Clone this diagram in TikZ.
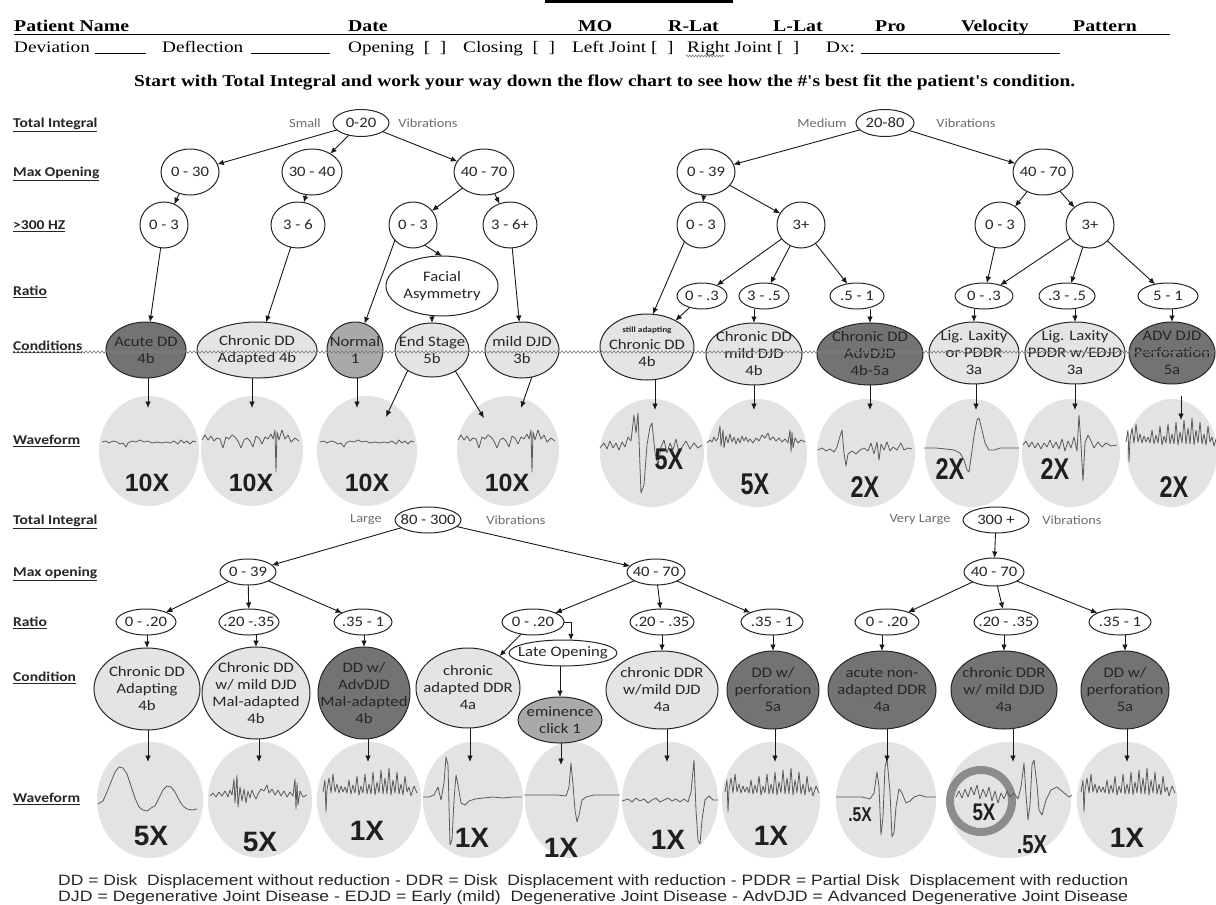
\documentclass[tikz,border=0pt]{standalone}
\usepackage{fontspec}
\usepackage{graphicx}
\usetikzlibrary{shapes.geometric,arrows.meta,decorations.pathmorphing}
\newfontfamily\hf[FakeStretch=1.2]{Liberation Serif}
\newfontfamily\cf[FakeStretch=1.15]{Carlito}
\newfontfamily\ff{Liberation Sans}
\newfontfamily\nf[FakeStretch=0.78]{Liberation Sans}
\definecolor{clight}{HTML}{E4E4E4}
\definecolor{cmid}{HTML}{A9A9A9}
\definecolor{cdark}{HTML}{737373}
\definecolor{wbg}{HTML}{E3E3E3}
\definecolor{ringc}{HTML}{8C8C8C}
\definecolor{txt}{HTML}{262626}
\definecolor{gtxt}{HTML}{6E6E6E}
\definecolor{wline}{HTML}{5A5A5A}
\tikzset{
  ebase/.style={ellipse, draw=black!85, line width=1pt, inner sep=0pt, outer sep=0pt},
  rngbox/.style={ebase, fill=white},
  cltbox/.style={ebase, fill=clight},
  cmdbox/.style={ebase, fill=cmid},
  cdkbox/.style={ebase, fill=cdark},
  wbbox/.style={ellipse, fill=wbg, draw=none, inner sep=0pt},
  etxt/.style={inner sep=0pt, align=center, text=txt, font=\cf\fontsize{14.5}{17}\selectfont},
  rlab/.style={anchor=base west, inner sep=0pt, text=black!85, font=\cf\bfseries\fontsize{13.5}{15}\selectfont},
  gtx/.style={inner sep=0pt, text=gtxt, font=\cf\fontsize{12.5}{14}\selectfont},
  hb/.style={anchor=base west, inner sep=0pt, text=black, font=\hf\bfseries\fontsize{16.5}{18}\selectfont},
  hr/.style={anchor=base west, inner sep=0pt, text=black, font=\hf\fontsize{16}{18}\selectfont},
  arr/.style={draw=black!90, line width=0.9pt, -{Latex[length=6.5pt,width=5.5pt]}},
  wv/.style={draw=wline, line width=0.8pt, line join=round},
  nx/.style={inner sep=0pt, text=black!88, font=\ff\bfseries\fontsize{25}{25}\selectfont},
  nxl/.style={inner sep=0pt, text=black!88, font=\ff\bfseries\fontsize{28}{28}\selectfont},
  nxn/.style={inner sep=0pt, text=black!88, font=\nf\bfseries\fontsize{30}{30}\selectfont},
  sqline/.style={draw=black!50, line width=0.6pt, decorate, decoration={zigzag, segment length=4pt, amplitude=1.2pt}},
}
\newcommand\enode[6][rngbox]{\node[#1, minimum width=#4pt, minimum height=#5pt] (#2) at #3 {};\node[etxt] (#2-t) at (#2) {#6};}
% waveforms
\newcommand\wflat[2]{\draw[wv,shift={(#1,#2)}] (-47,0) -- (-43,-1) -- (-40,1) -- (-36,-1) -- (-32,0) -- (-29,2) -- (-26,1) -- (-23,5) -- (-21,1) -- (-17,-1) -- (-13,0) -- (-9,-2) -- (-5,0) -- (-1,-1) -- (3,1) -- (8,0) -- (13,1) -- (17,0) -- (21,1) -- (25,-1) -- (29,2) -- (32,-2) -- (35,1) -- (38,-1) -- (41,2) -- (44,-1) -- (47,0);}
\newcommand\wchr[2]{\draw[wv,shift={(#1,#2)}] (-50,-2) -- (-47,-7) -- (-44,-2) -- (-41,-6) -- (-38,-1) -- (-35,-4) -- (-32,-3) -- (-29,6) -- (-26,-5) -- (-23,-3) -- (-20,-7) -- (-17,-5) -- (-14,-1) -- (-11,6) -- (-8,-2) -- (-5,-4) -- (-2,-1) -- (1,5) -- (4,-6) -- (7,-4) -- (10,2) -- (13,-5) -- (16,-3) -- (19,-8) -- (21,-3) -- (23,-12) -- (24,30) -- (25,-10) -- (27,-2) -- (30,-12) -- (33,-3) -- (36,-7) -- (39,0) -- (43,-4) -- (47,-1);}
\newcommand\wbig[2]{\draw[wv,shift={(#1,#2)}] (-52,3) -- (-48,-2) -- (-45,4) -- (-42,-4) -- (-39,3) -- (-36,-2) -- (-33,5) -- (-30,-3) -- (-27,2) -- (-24,-8) -- (-21,-4) -- (-18,-30) -- (-16,-12) -- (-14,-32) -- (-11,48) -- (-8,40) -- (-5,0) -- (-2,-18) -- (0,-22) -- (3,8) -- (6,20) -- (9,2) -- (12,-5) -- (15,8) -- (18,-2) -- (21,5) -- (24,-6) -- (27,8) -- (30,2) -- (34,-4) -- (38,4) -- (42,-2) -- (46,3) -- (50,0);}
\newcommand\wnoise[2]{\draw[wv,shift={(#1,#2)}] (-50,3) -- (-47,0) -- (-45,2) -- (-43,-3) -- (-41,1) -- (-39,-2) -- (-37,-14) -- (-36,6) -- (-34,-10) -- (-33,8) -- (-31,-4) -- (-29,3) -- (-27,-6) -- (-25,2) -- (-23,-3) -- (-21,4) -- (-19,-2) -- (-17,3) -- (-15,-4) -- (-13,1) -- (-11,-3) -- (-9,2) -- (-7,-1) -- (-4,3) -- (-1,-2) -- (2,1) -- (5,-5) -- (8,-2) -- (11,-7) -- (13,0) -- (16,-3) -- (19,1) -- (22,-2) -- (25,2) -- (28,-1) -- (31,3) -- (33,-10) -- (34,12) -- (35,-8) -- (36,8) -- (38,-2) -- (41,3) -- (44,0) -- (48,2);}
\newcommand\wsev[2]{\draw[wv,shift={(#1,#2)}] (-48,2) -- (-44,0) -- (-40,3) -- (-36,1) -- (-32,4) -- (-29,-1) -- (-26,-12) -- (-24,-18) -- (-22,5) -- (-20,18) -- (-18,6) -- (-14,3) -- (-10,6) -- (-6,2) -- (-2,0) -- (2,3) -- (5,-5) -- (8,6) -- (11,-6) -- (13,12) -- (15,-4) -- (18,2) -- (21,-6) -- (24,3) -- (27,-1) -- (31,2) -- (35,-5) -- (38,2) -- (42,0) -- (46,1);}
\newcommand\wlax[2]{\draw[wv,shift={(#1,#2)}] (-48,0) -- (-36,0) -- (-26,1) -- (-18,2) -- (-12,5) -- (-8,12) -- (-5,22) -- (-3,24) -- (-1,10) -- (2,-12) -- (5,-28) -- (7,-30) -- (10,-18) -- (13,-5) -- (17,2) -- (22,2) -- (28,0) -- (36,0) -- (47,0);}
\newcommand\wnine[2]{\draw[wv,shift={(#1,#2)}] (-48,0) -- (-45,-4) -- (-42,2) -- (-39,-3) -- (-36,3) -- (-33,-2) -- (-30,4) -- (-27,-2) -- (-24,2) -- (-21,-5) -- (-18,3) -- (-15,-3) -- (-12,4) -- (-9,-6) -- (-6,6) -- (-3,-4) -- (0,3) -- (3,-8) -- (6,6) -- (8,-30) -- (10,0) -- (12,36) -- (14,-2) -- (17,-10) -- (20,-4) -- (23,3) -- (27,-3) -- (31,2) -- (35,-2) -- (40,1) -- (46,0);}
\newcommand\wspk[2]{\draw[wv,shift={(#1,#2)}] (-46,2) -- (-44,-10) -- (-43,22) -- (-42,0) -- (-40,-12) -- (-38,3) -- (-36,-16) -- (-34,2) -- (-32,-6) -- (-30,3) -- (-28,-4) -- (-26,2) -- (-24,-3) -- (-22,3) -- (-20,-10) -- (-18,4) -- (-16,-5) -- (-14,3) -- (-12,-14) -- (-10,5) -- (-8,-4) -- (-6,3) -- (-4,-16) -- (-2,4) -- (0,-6) -- (2,4) -- (4,-18) -- (6,5) -- (8,-8) -- (10,3) -- (12,-20) -- (14,4) -- (16,-12) -- (18,4) -- (20,-22) -- (22,5) -- (24,-10) -- (26,3) -- (28,-18) -- (30,4) -- (32,-6) -- (34,5) -- (36,-14) -- (38,2) -- (40,-3) -- (42,6) -- (45,-4) -- (48,3);}
\newcommand\wslow[2]{\draw[wv,shift={(#1,#2)}] (-52,12) -- (-47,9) -- (-43,0) -- (-39,-10) -- (-35,-20) -- (-31,-25) -- (-27,-24) -- (-23,-18) -- (-19,-6) -- (-15,6) -- (-11,15) -- (-7,18) -- (-3,19) -- (1,16) -- (5,14) -- (9,6) -- (13,-2) -- (17,-6) -- (21,-5) -- (25,0) -- (29,8) -- (33,14) -- (37,17) -- (42,18) -- (47,17);}
\newcommand\wnoisy[2]{\draw[wv,shift={(#1,#2)}] (-50,3) -- (-47,0) -- (-44,4) -- (-41,-1) -- (-38,3) -- (-35,-2) -- (-32,4) -- (-30,-3) -- (-28,2) -- (-26,-14) -- (-25,10) -- (-23,-18) -- (-22,14) -- (-20,-6) -- (-18,8) -- (-16,-4) -- (-14,10) -- (-12,-2) -- (-10,5) -- (-8,-3) -- (-6,2) -- (-4,6) -- (-2,1) -- (1,-4) -- (4,-2) -- (7,-8) -- (9,0) -- (12,-4) -- (15,2) -- (18,-3) -- (21,3) -- (24,-2) -- (27,4) -- (30,-1) -- (33,3) -- (35,-14) -- (36,16) -- (37,-10) -- (38,12) -- (40,-2) -- (43,4) -- (47,2);}
\newcommand\wfour[2]{\draw[wv,shift={(#1,#2)}] (-50,2) -- (-44,2) -- (-39,0) -- (-35,-8) -- (-32,5) -- (-29,-12) -- (-27,-38) -- (-25,-30) -- (-23,50) -- (-21,45) -- (-19,5) -- (-17,-20) -- (-15,-10) -- (-12,8) -- (-8,10) -- (-4,6) -- (2,4) -- (10,3) -- (20,2) -- (30,3) -- (40,2) -- (49,2);}
\newcommand\wclick[2]{\draw[wv,shift={(#1,#2)}] (-48,0) -- (-30,0) -- (-15,0) -- (-6,1) -- (-3,-8) -- (-1,-32) -- (1,-10) -- (3,15) -- (5,27) -- (7,20) -- (10,5) -- (14,2) -- (22,0) -- (35,0) -- (48,0);}
\newcommand\wsix[2]{\draw[wv,shift={(#1,#2)}] (-48,1) -- (-42,-1) -- (-38,2) -- (-34,-2) -- (-30,1) -- (-26,-1) -- (-22,3) -- (-18,0) -- (-14,-2) -- (-10,2) -- (-6,0) -- (-2,-2) -- (2,1) -- (6,-1) -- (10,2) -- (14,-1) -- (18,2) -- (21,-8) -- (24,-40) -- (26,10) -- (28,40) -- (30,44) -- (32,20) -- (35,0) -- (39,-4) -- (43,0) -- (48,0);}
\newcommand\weight[2]{\draw[wv,shift={(#1,#2)}] (-50,0) -- (-36,0) -- (-24,0) -- (-16,2) -- (-12,-4) -- (-9,-25) -- (-7,-10) -- (-5,38) -- (-3,20) -- (-1,-30) -- (1,-38) -- (4,-5) -- (6,40) -- (8,35) -- (10,10) -- (13,-8) -- (16,-4) -- (20,6) -- (24,4) -- (28,0) -- (34,-2) -- (40,0) -- (50,0);}
\newcommand\wring[2]{\draw[wv,shift={(#1,#2)}] (-53,2) -- (-50,-4) -- (-47,3) -- (-44,-6) -- (-41,2) -- (-38,-8) -- (-35,0) -- (-32,-10) -- (-29,4) -- (-26,-6) -- (-23,2) -- (-20,-8) -- (-17,6) -- (-14,-4) -- (-11,8) -- (-8,-2) -- (-5,4) -- (-2,-4) -- (1,2) -- (5,-2) -- (9,4) -- (12,-8) -- (15,-32) -- (17,0) -- (19,25) -- (21,10) -- (23,-30) -- (25,-35) -- (28,-10) -- (30,15) -- (33,20) -- (37,5) -- (42,-5) -- (48,-8) -- (54,-3) -- (60,2) -- (63,0);}
\begin{document}
\begin{tikzpicture}[x=1pt,y=-1pt]
\useasboundingbox[fill=white] (0,0) rectangle (1216,905);
% ---------- header ----------
\fill[black] (545,0) rectangle (733,3);
\node[hb] (h1) at (14,31.5) {Patient Name};
\node[hb] (h2) at (348,31.5) {Date};
\node[hb] (h3) at (578,31.5) {MO};
\node[hb] (h4) at (668,31.5) {R-Lat};
\node[hb] (h5) at (773,31.5) {L-Lat};
\node[hb] (h6) at (875,31.5) {Pro};
\node[hb] (h7) at (961,31.5) {Velocity};
\node[hb] (h8) at (1073,31.5) {Pattern};
\draw[line width=1pt] (14,34) -- (1170,34);
\node[hr] (d1) at (14,52.5) {Deviation};
\draw[line width=0.9pt] (95,53.5) -- (146,53.5);
\node[hr] (d2) at (162,52.5) {Deflection};
\draw[line width=0.9pt] (251,53.5) -- (330,53.5);
\node[hr] (d3) at (348,52.5) {Opening~~[~~]};
\node[hr] (d4) at (463,52.5) {Closing~~[~~]};
\node[hr] (d5) at (572,52.5) {Left Joint [~~]};
\node[hr] (d6) at (687,52.5) {Right Joint [~~]};
\draw[sqline, decoration={amplitude=1pt, segment length=3pt}] (686,56) -- (724,56);
\node[hr] (d7) at (826,52.5) {D{\fontsize{11}{11}\selectfont X}:};
\draw[line width=0.9pt] (861,53.5) -- (1060,53.5);
\node[hb] (st) at (134,86) {\resizebox{941pt}{\height}{Start with Total Integral and work your way down the flow chart to see how the \#'s best fit the patient's condition.}};
% ---------- row labels ----------
\node[rlab] (lab1) at (13,127.5) {\underline{Total Integral}};
\node[rlab] (lab2) at (13,176.5) {\underline{Max Opening}};
\node[rlab] (lab3) at (13,229.5) {\underline{>300 HZ}};
\node[rlab] (lab4) at (13,295.5) {\underline{Ratio}};
\node[rlab] (lab5) at (13,350.5) {\underline{Conditions}};
\node[rlab] (lab6) at (13,444.5) {\underline{Waveform}};
\node[rlab] (lab7) at (13,524.5) {\underline{Total Integral}};
\node[rlab] (lab8) at (13,576.5) {\underline{Max opening}};
\node[rlab] (lab9) at (13,626.5) {\underline{Ratio}};
\node[rlab] (lab10) at (13,681.5) {\underline{Condition}};
\node[rlab] (lab11) at (13,802.5) {\underline{Waveform}};
% ---------- gray texts ----------
\node[gtx] (g1) at (305,123) {Small};
\node[gtx] (g2) at (428,123) {Vibrations};
\node[gtx] (g3) at (822,123) {Medium};
\node[gtx] (g4) at (966,123) {Vibrations};
\node[gtx] (g5) at (366,520) {Large};
\node[gtx] (g6) at (516,520) {Vibrations};
\node[gtx] (g7) at (920,520) {Very Large};
\node[gtx] (g8) at (1072,520) {Vibrations};
% ---------- waveform backgrounds (top) ----------
\node[wbbox, minimum width=100pt, minimum height=110pt] (w1) at (149,451) {};
\node[wbbox, minimum width=102pt, minimum height=110pt] (w2) at (252,451) {};
\node[wbbox, minimum width=100pt, minimum height=110pt] (w3) at (367,451) {};
\node[wbbox, minimum width=102pt, minimum height=110pt] (w4) at (508,451) {};
\node[wbbox, minimum width=104pt, minimum height=108pt] (w5) at (652,453) {};
\node[wbbox, minimum width=100pt, minimum height=108pt] (w6) at (757,453) {};
\node[wbbox, minimum width=98pt, minimum height=108pt] (w7) at (866,453) {};
\node[wbbox, minimum width=94pt, minimum height=108pt] (w8) at (972,453) {};
\node[wbbox, minimum width=98pt, minimum height=108pt] (w9) at (1071,453) {};
\node[wbbox, minimum width=90pt, minimum height=108pt] (w10) at (1172,453) {};
% ---------- waveform backgrounds (bottom) ----------
\node[wbbox, minimum width=106pt, minimum height=116pt] (v1) at (150,800) {};
\node[wbbox, minimum width=104pt, minimum height=116pt] (v2) at (260,800) {};
\node[wbbox, minimum width=104pt, minimum height=116pt] (v3) at (369,800) {};
\node[wbbox, minimum width=100pt, minimum height=116pt] (v4) at (473,800) {};
\node[wbbox, minimum width=94pt, minimum height=116pt] (v5) at (572,800) {};
\node[wbbox, minimum width=96pt, minimum height=116pt] (v6) at (670,800) {};
\node[wbbox, minimum width=98pt, minimum height=116pt] (v7) at (771,800) {};
\node[wbbox, minimum width=100pt, minimum height=116pt] (v8) at (886,800) {};
\node[wbbox, minimum width=124pt, minimum height=116pt] (v9) at (1009,800) {};
\node[wbbox, minimum width=100pt, minimum height=116pt] (v10) at (1127,800) {};
\draw[ringc, line width=8pt] (981,801) circle (31);
% ---------- traces ----------
\wflat{149}{442}
\wchr{252}{442}
\wflat{367}{442}
\wchr{508}{442}
\wbig{652}{445}
\wnoise{757}{440}
\wsev{866}{448}
\wlax{972}{448}
\wnine{1071}{445}
\wspk{1172}{440}
\wslow{150}{792}
\wnoisy{260}{793}
\wspk{369}{790}
\wfour{473}{795}
\wclick{572}{795}
\wsix{670}{800}
\wspk{771}{790}
\weight{886}{797}
\wring{1009}{795}
\wspk{1127}{790}
% ---------- multipliers ----------
\node[nx] (m1) at (147,483) {10X};
\node[nx] (m2) at (251,483) {10X};
\node[nx] (m3) at (367,483) {10X};
\node[nx] (m4) at (507,483) {10X};
\node[nxn] (m5) at (669,459) {5X};
\node[nxn] (m6) at (755,484) {5X};
\node[nxn] (m7) at (865,487) {2X};
\node[nxn] (m8) at (950,469) {2X};
\node[nxn] (m9) at (1055,469) {2X};
\node[nxn] (m10) at (1174,487) {2X};
\node[nxl] (k1) at (151,836) {5X};
\node[nxl] (k2) at (260,842) {5X};
\node[nxl] (k3) at (367,831) {1X};
\node[nxl] (k4) at (472,838) {1X};
\node[nxl] (k5) at (561,848) {1X};
\node[nxl] (k6) at (668,840) {1X};
\node[nxl] (k7) at (771,836) {1X};
\node[nxn, font=\nf\bfseries\fontsize{20}{20}\selectfont] (k8) at (860,815) {.5X};
\node[nxn, font=\nf\bfseries\fontsize{24}{24}\selectfont] (k9) at (984,812) {5X};
\node[nxn, font=\nf\bfseries\fontsize{26}{26}\selectfont] (k10) at (1032,845) {.5X};
\node[nxl] (k11) at (1127,838) {1X};
% ---------- top-left tree ----------
\enode{t020}{(361,123)}{56}{27}{0-20}
\enode{t030}{(190,172)}{58}{46}{0 - 30}
\enode{t3040}{(312,172)}{60}{46}{30 - 40}
\enode{t4070}{(484,172)}{60}{46}{40 - 70}
\enode{th1}{(164,225)}{48}{46}{0 - 3}
\enode{th2}{(298,225)}{54}{46}{3 - 6}
\enode{th3}{(413,225)}{48}{46}{0 - 3}
\enode{th4}{(510,225)}{54}{46}{3 - 6+}
\enode{fac}{(442,286)}{112}{60}{Facial\\Asymmetry}
\enode[cdkbox]{acute}{(146,350)}{80}{56}{Acute DD\\4b}
\enode[cltbox]{chra}{(257,350)}{120}{56}{Chronic DD\\Adapted 4b}
\enode[cmdbox]{norm}{(355,350)}{56}{56}{Normal\\1}
\enode[cltbox]{ends}{(432,350)}{74}{54}{End Stage\\5b}
\enode[cltbox]{mdjd}{(522,350)}{74}{56}{mild DJD\\3b}
% ---------- top-right tree ----------
\enode{t2080}{(885,123)}{58}{27}{20-80}
\enode{t039}{(706,172)}{58}{46}{0 - 39}
\enode{t4070r}{(1043,172)}{60}{46}{40 - 70}
\enode{th5}{(701,225)}{48}{46}{0 - 3}
\enode{th6}{(801,225)}{48}{46}{3+}
\enode{th7}{(1000,225)}{50}{46}{0 - 3}
\enode{th8}{(1090,225)}{48}{46}{3+}
\enode{tr1}{(702,296)}{50}{26}{0 - .3}
\enode{tr2}{(764,296)}{50}{26}{3 - .5}
\enode{tr3}{(857,296)}{54}{26}{.5 - 1}
\enode{tr4}{(984,296)}{58}{26}{0 - .3}
\enode{tr5}{(1067,296)}{56}{26}{.3 - .5}
\enode{tr6}{(1168,296)}{60}{26}{5 - 1}
\enode[cltbox]{stil}{(647,347)}{94}{66}{{\bfseries\fontsize{8}{9}\selectfont still adapting}\\Chronic DD\\4b}
\enode[cltbox]{cmil}{(754,354)}{96}{62}{Chronic DD\\mild DJD\\4b}
\enode[cdkbox]{cadv}{(870,354)}{106}{62}{Chronic DD\\AdvDJD\\4b-5a}
\enode[cltbox]{lig}{(974,353)}{90}{62}{Lig. Laxity\\or PDDR\\3a}
\enode[cltbox]{ligp}{(1075,353)}{100}{62}{Lig. Laxity\\PDDR w/EDJD\\3a}
\enode[cdkbox]{advd}{(1172,353)}{86}{62}{ADV DJD\\Perforation\\5a}
% ---------- lower-left tree ----------
\enode{l80}{(428,520)}{66}{26}{80 - 300}
\enode{l039}{(248,572)}{56}{26}{0 - 39}
\enode{l4070}{(656,572)}{58}{26}{40 - 70}
\enode{lr1}{(146,622)}{60}{26}{0 - .20}
\enode{lr2}{(249,622)}{60}{26}{.20 -.35}
\enode{lr3}{(363,622)}{58}{26}{.35 - 1}
\enode{lr4}{(533,622)}{62}{26}{0 - .20}
\enode{lr5}{(662,622)}{64}{26}{.20 - .35}
\enode{lr6}{(772,622)}{62}{26}{.35 - 1}
\enode{late}{(563,653)}{108}{26}{Late Opening}
\enode[cltbox]{lc1}{(147,689)}{106}{82}{Chronic DD\\Adapting\\4b}
\enode[cltbox]{lc2}{(256,693)}{108}{92}{Chronic DD\\w/ mild DJD\\Mal-adapted\\4b}
\enode[cdkbox]{lc3}{(364,693)}{92}{92}{DD w/\\AdvDJD\\Mal-adapted\\4b}
\enode[cltbox]{lc4}{(468,688)}{104}{80}{chronic\\adapted DDR\\4a}
\enode[cmdbox]{lc5}{(560,720)}{84}{46}{eminence\\click 1}
\enode[cltbox]{lc6}{(662,690)}{112}{78}{chronic DDR\\w/mild DJD\\4a}
\enode[cdkbox]{lc7}{(773,690)}{92}{78}{DD w/\\perforation\\5a}
% ---------- lower-right tree ----------
\enode{l300}{(996,520)}{66}{26}{300 +}
\enode{l4070r}{(994,572)}{60}{28}{40 - 70}
\enode{lr7}{(887,622)}{64}{26}{0 - .20}
\enode{lr8}{(1006,622)}{64}{26}{.20 - .35}
\enode{lr9}{(1120,622)}{62}{26}{.35 - 1}
\enode[cdkbox]{lc8}{(882,690)}{108}{78}{acute non-\\adapted DDR\\4a}
\enode[cdkbox]{lc9}{(1004,690)}{106}{78}{chronic DDR\\w/ mild DJD\\4a}
\enode[cdkbox]{lc10}{(1125,690)}{88}{78}{DD w/\\perforation\\5a}
% squiggle across conditions row
\draw[sqline] (13,352) -- (1216,352);
% ---------- arrow end coordinates ----------
\coordinate (a1) at (148,408);
\coordinate (a2) at (252,408);
\coordinate (a3) at (357,408);
\coordinate (a3b) at (386,417);
\coordinate (a4b) at (484,418);
\coordinate (a4) at (521,408);
\coordinate (a5) at (655,410);
\coordinate (a6) at (754,410);
\coordinate (a7) at (870,410);
\coordinate (a8) at (976,410);
\coordinate (a9) at (1075,410);
\coordinate (a10s) at (1181,396);
\coordinate (a10) at (1181,420);
\coordinate (b1) at (148,762);
\coordinate (b2) at (259,762);
\coordinate (b3) at (368,762);
\coordinate (b4) at (470,762);
\coordinate (b5) at (561,765);
\coordinate (b6) at (667,762);
\coordinate (b7) at (775,762);
\coordinate (b8) at (887,762);
\coordinate (b9) at (1013,762);
\coordinate (b10) at (1127,762);
\coordinate (lateN) at (571,640.3);
% ---------- arrows top-left ----------
\draw[arr] (t020) -- (t030);
\draw[arr] (t020) -- (t3040);
\draw[arr] (t020) -- (t4070);
\draw[arr] (t030) -- (th1);
\draw[arr] (t3040) -- (th2);
\draw[arr] (t4070) -- (th3);
\draw[arr] (t4070) -- (th4);
\draw[arr] (th1) -- (acute);
\draw[arr] (th2) -- (chra);
\draw[arr] (th3.220) -- (norm.70);
\draw[arr] (th3.300) -- (fac.north);
\draw[arr] (fac.south -| ends.north) -- (ends.north);
\draw[arr] (th4) -- (mdjd);
\draw[arr] (acute.south -| a1) -- (a1);
\draw[arr] (chra.south -| a2) -- (a2);
\draw[arr] (norm.south -| a3) -- (a3);
\draw[arr] (ends.220) -- (a3b);
\draw[arr] (ends.318) -- (a4b);
\draw[arr] (mdjd.290) -- (a4);
% ---------- arrows top-right ----------
\draw[arr] (t2080) -- (t039);
\draw[arr] (t2080) -- (t4070r);
\draw[arr] (t039) -- (th5);
\draw[arr] (t039) -- (th6);
\draw[arr] (th5.225) -- (stil.80);
\draw[arr] (th6) -- (tr1);
\draw[arr] (th6) -- (tr2);
\draw[arr] (th6) -- (tr3);
\draw[arr] (tr1) -- (stil);
\draw[arr] (tr2.south -| cmil.north) -- (cmil.north);
\draw[arr] (tr3.south -| cadv.north) -- (cadv.north);
\draw[arr] (t4070r) -- (th7);
\draw[arr] (t4070r) -- (th8);
\draw[arr] (th7) -- (tr4);
\draw[arr] (th8) -- (tr4);
\draw[arr] (th8) -- (tr5);
\draw[arr] (th8) -- (tr6);
\draw[arr] (tr4.south -| lig.north) -- (lig.north);
\draw[arr] (tr5.south -| ligp.north) -- (ligp.north);
\draw[arr] (tr6.south -| advd.north) -- (advd.north);
\draw[arr] (stil.south -| a5) -- (a5);
\draw[arr] (cmil.south -| a6) -- (a6);
\draw[arr] (cadv.south -| a7) -- (a7);
\draw[arr] (lig.south -| a8) -- (a8);
\draw[arr] (ligp.south -| a9) -- (a9);
\draw[arr] (a10s) -- (a10);
% ---------- arrows lower ----------
\draw[arr] (l80) -- (l039);
\draw[arr] (l80) -- (l4070);
\draw[arr] (l039) -- (lr1);
\draw[arr] (l039) -- (lr2);
\draw[arr] (l039) -- (lr3);
\draw[arr] (l4070) -- (lr4);
\draw[arr] (l4070) -- (lr5);
\draw[arr] (l4070) -- (lr6);
\draw[arr] (lr1.south -| lc1.north) -- (lc1.north);
\draw[arr] (lr2.south -| lc2.north) -- (lc2.north);
\draw[arr] (lr3.south -| lc3.north) -- (lc3.north);
\draw[arr] (lr4) -- (lc4);
\draw[arr] (lr4.east) -| (lateN);
\draw[arr] (late.south -| lc5.north) -- (lc5.north);
\draw[arr] (lr5.south -| lc6.north) -- (lc6.north);
\draw[arr] (lr6.south -| lc7.north) -- (lc7.north);
\draw[arr] (l300) -- (l4070r);
\draw[arr] (l4070r) -- (lr7);
\draw[arr] (l4070r) -- (lr8);
\draw[arr] (l4070r) -- (lr9);
\draw[arr] (lr7.south -| lc8.north) -- (lc8.north);
\draw[arr] (lr8.south -| lc9.north) -- (lc9.north);
\draw[arr] (lr9.south -| lc10.north) -- (lc10.north);
\draw[arr] (lc1.south -| b1) -- (b1);
\draw[arr] (lc2.south -| b2) -- (b2);
\draw[arr] (lc3.south -| b3) -- (b3);
\draw[arr] (lc4.south -| b4) -- (b4);
\draw[arr] (lc5.south -| b5) -- (b5);
\draw[arr] (lc6.south -| b6) -- (b6);
\draw[arr] (lc7.south -| b7) -- (b7);
\draw[arr] (lc8.south -| b8) -- (b8);
\draw[arr] (lc9.south -| b9) -- (b9);
\draw[arr] (lc10.south -| b10) -- (b10);
% ---------- footer ----------
\node[anchor=base west, inner sep=0pt, text=black!85, font=\ff\fontsize{15}{17}\selectfont] (f1) at (58,885) {\resizebox{1070pt}{\height}{DD = Disk~ Displacement without reduction - DDR = Disk~ Displacement with reduction - PDDR = Partial Disk~ Displacement with reduction}};
\node[anchor=base west, inner sep=0pt, text=black!85, font=\ff\fontsize{15}{17}\selectfont] (f2) at (58,901) {\resizebox{1070pt}{\height}{DJD = Degenerative Joint Disease - EDJD = Early (mild)~ Degenerative Joint Disease - AdvDJD = Advanced Degenerative Joint Disease}};
\end{tikzpicture}
\end{document}
